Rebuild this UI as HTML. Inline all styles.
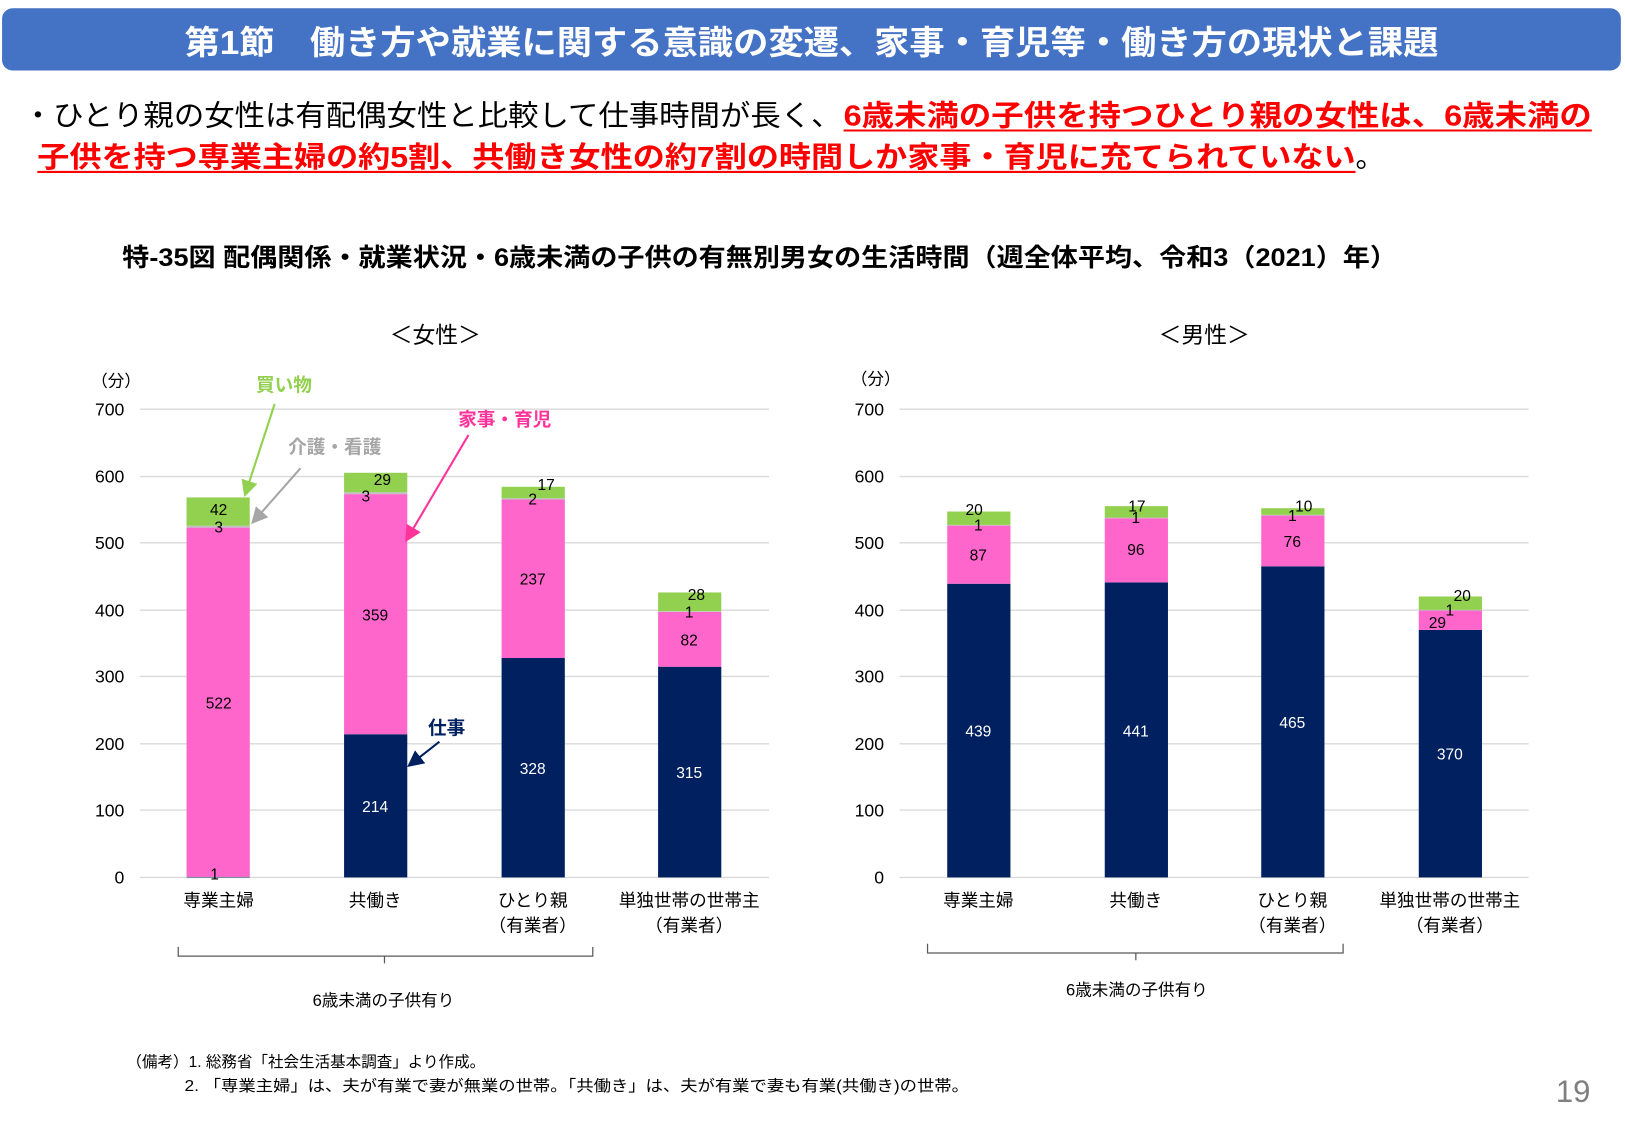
<!DOCTYPE html>
<html><head><meta charset="utf-8"><style>
html,body{margin:0;padding:0;background:#fff;overflow:hidden}
#w{width:1568px;height:1086px;transform:scale(1.03635,1.03591);transform-origin:0 0;position:relative}
svg text{font-family:"Liberation Sans","Noto Sans CJK JP",sans-serif}
</style></head><body><div id="w">
<svg width="1568" height="1086" viewBox="0 0 1568 1086" xmlns="http://www.w3.org/2000/svg">
<rect x="2" y="8" width="1562" height="60" rx="10" fill="#4472C4"/>
<text x="178" y="52" textLength="1210" lengthAdjust="spacingAndGlyphs" font-size="32" font-weight="bold" fill="#fff">第1節　働き方や就業に関する意識の変遷、家事・育児等・働き方の現状と課題</text>
<text x="22" y="121" textLength="790" lengthAdjust="spacingAndGlyphs" font-size="28" fill="#000">・ひとり親の女性は有配偶女性と比較して仕事時間が長く、</text>
<text x="814" y="121" textLength="722" lengthAdjust="spacingAndGlyphs" font-size="28" fill="#FF0000" font-weight="bold">6歳未満の子供を持つひとり親の女性は、6歳未満の</text>
<line x1="814" y1="126" x2="1536" y2="126" stroke="#f00" stroke-width="2"/>
<text x="36" y="161" textLength="1272" lengthAdjust="spacingAndGlyphs" font-size="28" fill="#FF0000" font-weight="bold">子供を持つ専業主婦の約5割、共働き女性の約7割の時間しか家事・育児に充てられていない</text>
<text x="1308" y="161" font-size="28" fill="#000">。</text>
<line x1="36" y1="166" x2="1308" y2="166" stroke="#f00" stroke-width="2"/>
<text x="118" y="257" textLength="1230" lengthAdjust="spacingAndGlyphs" font-size="24" font-weight="bold">特-35図 配偶関係・就業状況・6歳未満の子供の有無別男女の生活時間（週全体平均、令和3（2021）年）</text>
<text x="420" y="331" text-anchor="middle" font-size="22">＜女性＞</text>
<text x="1162" y="331" text-anchor="middle" font-size="22">＜男性＞</text>
<g stroke="#d9d9d9" stroke-width="1.3">
<line x1="135" y1="395" x2="742" y2="395"/><line x1="135" y1="460" x2="742" y2="460"/><line x1="135" y1="524" x2="742" y2="524"/><line x1="135" y1="589" x2="742" y2="589"/><line x1="135" y1="653" x2="742" y2="653"/><line x1="135" y1="718" x2="742" y2="718"/><line x1="135" y1="782" x2="742" y2="782"/><line x1="135" y1="847" x2="742" y2="847"/>
<line x1="868" y1="395" x2="1475" y2="395"/><line x1="868" y1="460" x2="1475" y2="460"/><line x1="868" y1="524" x2="1475" y2="524"/><line x1="868" y1="589" x2="1475" y2="589"/><line x1="868" y1="653" x2="1475" y2="653"/><line x1="868" y1="718" x2="1475" y2="718"/><line x1="868" y1="782" x2="1475" y2="782"/><line x1="868" y1="847" x2="1475" y2="847"/>
</g>
<g font-size="17" text-anchor="end">
<text x="120" y="401">700</text><text x="120" y="466">600</text><text x="120" y="530">500</text><text x="120" y="595">400</text><text x="120" y="659">300</text><text x="120" y="724">200</text><text x="120" y="788">100</text><text x="120" y="853">0</text>
<text x="853" y="401">700</text><text x="853" y="466">600</text><text x="853" y="530">500</text><text x="853" y="595">400</text><text x="853" y="659">300</text><text x="853" y="724">200</text><text x="853" y="788">100</text><text x="853" y="853">0</text>
</g>
<text x="88" y="373" font-size="16">（分）</text>
<text x="821" y="371" font-size="16">（分）</text>
<g>
<rect x="180" y="846.4" width="61" height="0.6" fill="#002060"/>
<rect x="180" y="509.3" width="61" height="337.1" fill="#FF66CC"/>
<rect x="180" y="507.4" width="61" height="1.9" fill="#BFBFBF"/>
<rect x="180" y="480.2" width="61" height="27.2" fill="#92D050"/>
<rect x="332" y="708.8" width="61" height="138.2" fill="#002060"/>
<rect x="332" y="477" width="61" height="231.8" fill="#FF66CC"/>
<rect x="332" y="475.1" width="61" height="1.9" fill="#BFBFBF"/>
<rect x="332" y="456.4" width="61" height="18.7" fill="#92D050"/>
<rect x="484" y="635.2" width="61" height="211.8" fill="#002060"/>
<rect x="484" y="482.2" width="61" height="153" fill="#FF66CC"/>
<rect x="484" y="480.9" width="61" height="1.3" fill="#BFBFBF"/>
<rect x="484" y="469.9" width="61" height="11" fill="#92D050"/>
<rect x="635" y="643.6" width="61" height="203.4" fill="#002060"/>
<rect x="635" y="590.7" width="61" height="52.9" fill="#FF66CC"/>
<rect x="635" y="590" width="61" height="0.7" fill="#BFBFBF"/>
<rect x="635" y="571.9" width="61" height="18.1" fill="#92D050"/>
</g>
<g>
<rect x="914" y="563.5" width="61" height="283.5" fill="#002060"/>
<rect x="914" y="507.4" width="61" height="56.1" fill="#FF66CC"/>
<rect x="914" y="506.7" width="61" height="0.7" fill="#BFBFBF"/>
<rect x="914" y="493.8" width="61" height="12.9" fill="#92D050"/>
<rect x="1066" y="562.2" width="61" height="284.8" fill="#002060"/>
<rect x="1066" y="500.3" width="61" height="61.9" fill="#FF66CC"/>
<rect x="1066" y="499.6" width="61" height="0.7" fill="#BFBFBF"/>
<rect x="1066" y="488.6" width="61" height="11" fill="#92D050"/>
<rect x="1217" y="546.7" width="61" height="300.3" fill="#002060"/>
<rect x="1217" y="497.7" width="61" height="49" fill="#FF66CC"/>
<rect x="1217" y="497" width="61" height="0.7" fill="#BFBFBF"/>
<rect x="1217" y="490.6" width="61" height="6.4" fill="#92D050"/>
<rect x="1369" y="608.1" width="61" height="238.9" fill="#002060"/>
<rect x="1369" y="589.4" width="61" height="18.7" fill="#FF66CC"/>
<rect x="1369" y="588.7" width="61" height="0.7" fill="#BFBFBF"/>
<rect x="1369" y="575.8" width="61" height="12.9" fill="#92D050"/>
</g>
<g font-size="15" text-anchor="middle" fill="#000">
<text x="207" y="849">1</text><text x="211" y="684">522</text><text x="211" y="514">3</text><text x="211" y="497">42</text>
<text x="362" y="599">359</text><text x="353" y="484">3</text><text x="369" y="468">29</text>
<text x="514" y="564">237</text><text x="514" y="487">2</text><text x="527" y="473">17</text>
<text x="665" y="623">82</text><text x="665" y="596">1</text><text x="672" y="579">28</text>
<text x="944" y="541">87</text><text x="944" y="512">1</text><text x="940" y="497">20</text>
<text x="1096" y="536">96</text><text x="1096" y="505">1</text><text x="1097" y="494">17</text>
<text x="1247" y="528">76</text><text x="1247" y="503">1</text><text x="1258" y="494">10</text>
<text x="1387" y="606">29</text><text x="1399" y="594">1</text><text x="1411" y="580">20</text>
</g>
<g font-size="15" text-anchor="middle" fill="#fff">
<text x="362" y="784">214</text><text x="514" y="747">328</text><text x="665" y="751">315</text>
<text x="944" y="711">439</text><text x="1096" y="711">441</text><text x="1247" y="703">465</text><text x="1399" y="733">370</text>
</g>
<g font-size="17" text-anchor="middle">
<text x="211" y="875">専業主婦</text><text x="362" y="875">共働き</text><text x="514" y="875">ひとり親</text><text x="514" y="899">（有業者）</text><text x="665" y="875">単独世帯の世帯主</text><text x="665" y="899">（有業者）</text>
<text x="944" y="875">専業主婦</text><text x="1096" y="875">共働き</text><text x="1247" y="875">ひとり親</text><text x="1247" y="899">（有業者）</text><text x="1399" y="875">単独世帯の世帯主</text><text x="1399" y="899">（有業者）</text>
<text x="370" y="971" font-size="16">6歳未満の子供有り</text>
<text x="1097" y="961" font-size="16">6歳未満の子供有り</text>
</g>
<g stroke="#595959" stroke-width="1.2" fill="none">
<path d="M172 914 V923 H572 V914 M371 923 V930"/>
<path d="M895 911 V920 H1296 V911 M1096 920 V927"/>
</g>
<g font-size="18" font-weight="bold" text-anchor="middle">
<text x="274" y="378" fill="#92D050">買い物</text>
<text x="323" y="438" fill="#A6A6A6">介護・看護</text>
<text x="487" y="411" fill="#FF3399">家事・育児</text>
<text x="431" y="709" fill="#002060">仕事</text>
</g>
<defs>
<marker id="a1" markerWidth="8" markerHeight="8" refX="6" refY="4" orient="auto"><path d="M0,0 L8,4 L0,8z" fill="#92D050"/></marker>
<marker id="a2" markerWidth="8" markerHeight="8" refX="6" refY="4" orient="auto"><path d="M0,0 L8,4 L0,8z" fill="#A6A6A6"/></marker>
<marker id="a3" markerWidth="8" markerHeight="8" refX="6" refY="4" orient="auto"><path d="M0,0 L8,4 L0,8z" fill="#FF3399"/></marker>
<marker id="a4" markerWidth="8" markerHeight="8" refX="6" refY="4" orient="auto"><path d="M0,0 L8,4 L0,8z" fill="#002060"/></marker>
</defs>
<line x1="265" y1="390" x2="237" y2="476" stroke="#92D050" stroke-width="2" marker-end="url(#a1)"/>
<line x1="290" y1="452" x2="245" y2="503" stroke="#A6A6A6" stroke-width="2" marker-end="url(#a2)"/>
<line x1="452" y1="420" x2="393" y2="520" stroke="#FF3399" stroke-width="2" marker-end="url(#a3)"/>
<line x1="424" y1="716" x2="396" y2="738" stroke="#002060" stroke-width="2" marker-end="url(#a4)"/>
<text x="122" y="1030" font-size="15">（備考）1. 総務省「社会生活基本調査」より作成。</text>
<text x="178" y="1053" textLength="757" lengthAdjust="spacingAndGlyphs" font-size="15">2. 「専業主婦」は、夫が有業で妻が無業の世帯。「共働き」は、夫が有業で妻も有業(共働き)の世帯。</text>
<text x="1518" y="1064" font-size="30" fill="#7f7f7f" text-anchor="middle">19</text>
</svg></div></body></html>
